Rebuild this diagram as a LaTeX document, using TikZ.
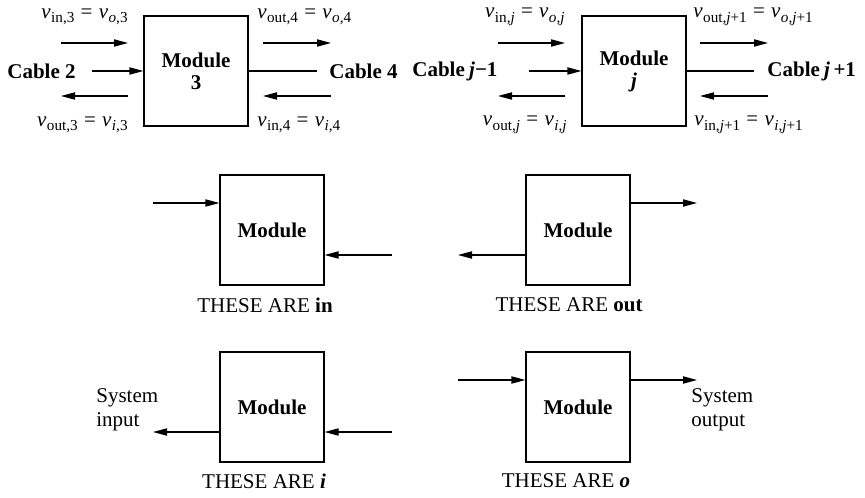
\documentclass[tikz,border=0pt]{standalone}
\usepackage{fontspec}
\setmainfont{Liberation Serif}
\usetikzlibrary{arrows.meta}
\newcommand\vsub[1]{\textit{v}\kern0.02em\raisebox{-0.22em}{\fontsize{7.6}{8}\selectfont #1}}
\newcommand\eqs{\hspace{0.3em}=\hspace{0.3em}}
\begin{document}
\begin{tikzpicture}[x=0.5pt,y=-0.5pt,
  font=\fontsize{10.5}{11}\selectfont,
  modbox/.style={draw, line width=0.6pt, minimum width=52pt, minimum height=55pt, inner sep=0pt, align=center, font=\fontsize{10.5}{11}\selectfont\bfseries},
  arr/.style={line width=0.6pt, -{Triangle[length=7pt,width=3.6pt]}},
  ln/.style={line width=0.6pt},
  lbl/.style={inner sep=0pt},
  cab/.style={inner sep=0pt, font=\fontsize{10.5}{11}\selectfont\bfseries},
  sys/.style={inner sep=0pt, align=left, font=\fontsize{10.5}{12}\selectfont},
]
\useasboundingbox (0,0) rectangle (865,497);

% ---------- Top left: Module 3 ----------
\node[modbox] (m3) at (196,71) {Module\\3};
\node[lbl, anchor=east] (l31) at (128,17) {\vsub{in,3}\eqs\vsub{\textit{o},3}};
\node[lbl, anchor=east] (l32) at (128,125) {\vsub{out,3}\eqs\vsub{\textit{i},3}};
\node[lbl, anchor=west] (l33) at (257,17) {\vsub{out,4}\eqs\vsub{\textit{o},4}};
\node[lbl, anchor=west] (l34) at (257,125) {\vsub{in,4}\eqs\vsub{\textit{i},4}};
\node[cab] (c2) at (41.5,71) {Cable 2};
\node[cab, anchor=west] (c4) at (329,71) {Cable 4};
\coordinate (a1) at (61,43);  \coordinate (a2) at (128,43);
\coordinate (a3) at (92,71);
\coordinate (a4) at (128,96); \coordinate (a5) at (61,96);
\coordinate (a6) at (263,43); \coordinate (a7) at (331,43);
\coordinate (a8) at (317,71);
\coordinate (a9) at (331,96); \coordinate (a10) at (263,96);
\draw[arr] (a1) -- (a2);
\draw[arr] (a3) -- (m3.west);
\draw[arr] (a4) -- (a5);
\draw[arr] (a6) -- (a7);
\draw[ln] (m3.east) -- (a8);
\draw[arr] (a9) -- (a10);

% ---------- Top right: Module j ----------
\node[modbox] (mj) at (634,71) {Module\\\textit{j}};
\node[lbl, anchor=east] (lj1) at (565,17) {\vsub{in,\textit{j}}\eqs\vsub{\textit{o},\textit{j}}};
\node[lbl, anchor=east] (lj2) at (567,125) {\vsub{out,\textit{j}}\eqs\vsub{\textit{i},\textit{j}}};
\node[lbl, anchor=west] (lj3) at (693,17) {\vsub{out,\textit{j}+1}\eqs\vsub{\textit{o},\textit{j}+1}};
\node[lbl, anchor=west] (lj4) at (694,125) {\vsub{in,\textit{j}+1}\eqs\vsub{\textit{i},\textit{j}+1}};
\node[cab, anchor=west] (cj1) at (412,71) {Cable\hspace{0.2em}\textit{j}−1};
\node[cab, anchor=west] (cj2) at (767,71) {Cable\hspace{0.2em}\textit{j}\,+1};
\coordinate (b1) at (498,43);  \coordinate (b2) at (565,43);
\coordinate (b3) at (529,71);
\coordinate (b4) at (565,96); \coordinate (b5) at (498,96);
\coordinate (b6) at (700,43); \coordinate (b7) at (768,43);
\coordinate (b8) at (754,71);
\coordinate (b9) at (768,96); \coordinate (b10) at (700,96);
\draw[arr] (b1) -- (b2);
\draw[arr] (b3) -- (mj.west);
\draw[arr] (b4) -- (b5);
\draw[arr] (b6) -- (b7);
\draw[ln] (mj.east) -- (b8);
\draw[arr] (b9) -- (b10);

% ---------- Row 2 ----------
\node[modbox] (ma) at (272,230) {Module};
\node[lbl] (ta) at (265,305) {THESE ARE \textbf{in}};
\coordinate (q1) at (153,203); \coordinate (q2) at (392,255);
\draw[arr] (q1) -- (q1 -| ma.west);
\draw[arr] (q2) -- (q2 -| ma.east);

\node[modbox] (mb) at (578,230) {Module};
\node[lbl] (tb) at (569,305) {THESE ARE \textbf{out}};
\coordinate (r1) at (697,203); \coordinate (r2) at (458,255);
\draw[arr] (r1 -| mb.east) -- (r1);
\draw[arr] (r2 -| mb.west) -- (r2);

% ---------- Row 3 ----------
\node[modbox] (mc) at (272,407) {Module};
\node[lbl] (tc) at (264,481) {THESE ARE \textbf{\textit{i}}};
\node[sys, anchor=west] (si) at (96,410) {System\\input};
\coordinate (s1) at (153,432); \coordinate (s2) at (392,432);
\draw[arr] (s1 -| mc.west) -- (s1);
\draw[arr] (s2) -- (s2 -| mc.east);

\node[modbox] (md) at (578,407) {Module};
\node[lbl] (td) at (566,481) {THESE ARE \textbf{\textit{o}}};
\node[sys, anchor=west] (so) at (691,410) {System\\output};
\coordinate (t1) at (458,380); \coordinate (t2) at (697,380);
\draw[arr] (t1) -- (t1 -| md.west);
\draw[arr] (t2 -| md.east) -- (t2);
\end{tikzpicture}
\end{document}
